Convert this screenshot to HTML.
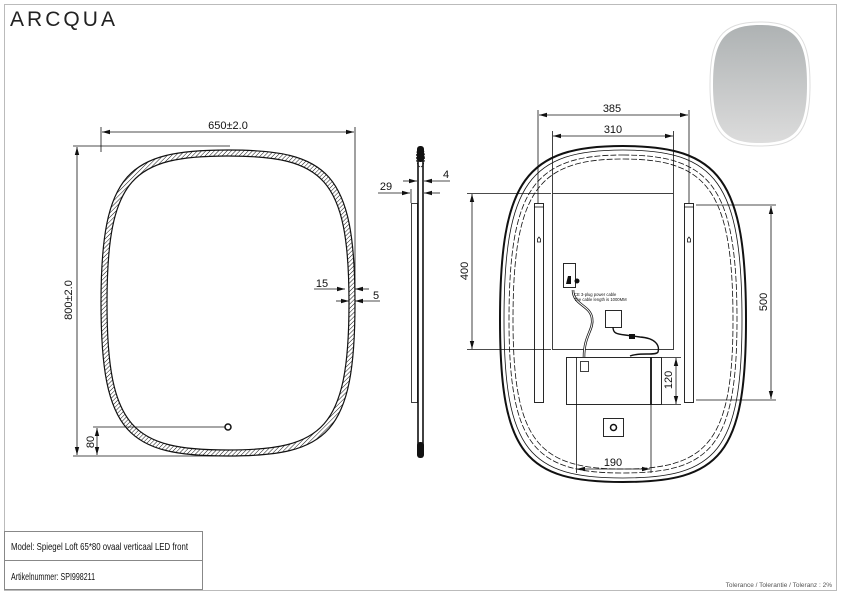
<!DOCTYPE html>
<html><head><meta charset="utf-8"><style>
html,body{margin:0;padding:0;background:#fff}
svg{display:block}
text{font-family:"Liberation Sans",sans-serif;fill:#111}
</style></head><body>
<svg width="842" height="596" viewBox="0 0 842 596" xmlns="http://www.w3.org/2000/svg">
<defs>
<pattern id="h" width="3" height="3" patternUnits="userSpaceOnUse" patternTransform="rotate(45)">
<rect width="3" height="3" fill="#fff"/><line x1="0" y1="0" x2="0" y2="3" stroke="#111" stroke-width="1"/></pattern>
<linearGradient id="g" x1="0" y1="0" x2="0" y2="1"><stop offset="0" stop-color="#aeb2b3"/><stop offset="1" stop-color="#dcdcdc"/></linearGradient>
<marker id="a" markerWidth="8" markerHeight="6" refX="8" refY="3" orient="auto" markerUnits="userSpaceOnUse"><path d="M0,0.8 L8,3 L0,5.2 Z" fill="#111"/></marker>
<marker id="b" markerWidth="8" markerHeight="6" refX="0" refY="3" orient="auto" markerUnits="userSpaceOnUse"><path d="M8,0.8 L0,3 L8,5.2 Z" fill="#111"/></marker>
</defs>
<rect x="4.5" y="4.5" width="832" height="586" fill="none" stroke="#bbb" stroke-width="1"/>
<text x="10" y="26" font-size="21" textLength="105" lengthAdjust="spacing" style="fill:#222">ARCQUA</text>
<path d="M760,22 C800,22 810,40 810,85 C810,135 795,146 760,146 C725,146 710,135 710,85 C710,40 720,22 760,22Z" fill="#fff" stroke="#ddd"/>
<path d="M760,25 C797,25 807,42 807,85 C807,132 793,143 760,143 C727,143 713,132 713,85 C713,42 723,25 760,25Z" fill="url(#g)"/>
<!-- front view -->
<path fill-rule="evenodd" fill="url(#h)" stroke="#111" stroke-width="1.2" d="M228,150 C328,150 355,172 355,303 C355,434 328,456 228,456 C128,456 101,434 101,303 C101,172 128,150 228,150 Z M228,156 C323,156 349,177 349,303 C349,429 323,450 228,450 C133,450 107,429 107,303 C107,177 133,156 228,156Z"/>
<g stroke="#111" stroke-width="0.8" fill="none">
<line x1="101" y1="127" x2="101" y2="152"/><line x1="355" y1="127" x2="355" y2="290"/>
<line x1="102" y1="132" x2="354" y2="132" marker-start="url(#b)" marker-end="url(#a)"/>
<line x1="73" y1="146" x2="230" y2="146"/><line x1="73" y1="456" x2="230" y2="456"/>
<line x1="77" y1="147" x2="77" y2="455" marker-start="url(#b)" marker-end="url(#a)"/>
<line x1="93" y1="427" x2="225" y2="427"/>
<line x1="97" y1="428" x2="97" y2="455" marker-start="url(#b)" marker-end="url(#a)"/>
<line x1="314" y1="289" x2="345" y2="289" marker-end="url(#a)"/>
<line x1="369" y1="289" x2="355" y2="289" marker-end="url(#a)"/>
<line x1="336" y1="301" x2="349" y2="301" marker-end="url(#a)"/>
<line x1="380" y1="301" x2="355" y2="301" marker-end="url(#a)"/>
</g>
<circle cx="228" cy="427" r="3" fill="#fff" stroke="#111" stroke-width="1.5"/>
<text x="228" y="129" font-size="11" text-anchor="middle">650±2.0</text>
<text transform="translate(72,300) rotate(-90)" font-size="11" text-anchor="middle">800±2.0</text>
<text transform="translate(94,442) rotate(-90)" font-size="11" text-anchor="middle">80</text>
<text x="322" y="287" font-size="11" text-anchor="middle">15</text>
<text x="376" y="299" font-size="11" text-anchor="middle">5</text>
<!-- side view -->
<g stroke="#111" fill="none">
<line x1="418" y1="150" x2="418" y2="455" stroke-width="1.6"/>
<line x1="423" y1="150" x2="423" y2="455" stroke-width="1.6"/>
<rect x="411.5" y="203.5" width="6" height="199" stroke-width="0.8"/>
<ellipse cx="420.5" cy="157" rx="4" ry="10" stroke-width="0.8" stroke-dasharray="2,1"/>
</g>
<rect x="417" y="146" width="7" height="16" rx="3" fill="#111"/>
<rect x="417" y="442" width="7" height="16" rx="3" fill="#111"/>
<g stroke="#111" stroke-width="0.8">
<line x1="403" y1="181" x2="417" y2="181" marker-end="url(#a)"/>
<line x1="450" y1="181" x2="424" y2="181" marker-end="url(#a)"/>
<line x1="378" y1="193" x2="410" y2="193" marker-end="url(#a)"/>
<line x1="440" y1="193" x2="424" y2="193" marker-end="url(#a)"/>
<line x1="411" y1="189" x2="411" y2="203"/>
</g>
<text x="446" y="178" font-size="11" text-anchor="middle">4</text>
<text x="386" y="190" font-size="11" text-anchor="middle">29</text>
<!-- back view -->
<g fill="none" stroke="#111">
<path stroke-width="2" d="M623,146 C720,146 746,180 746,320 C746,455 720,482 623,482 C526,482 500,455 500,320 C500,180 526,146 623,146 Z"/>
<path stroke-width="0.8" d="M623,150 C716,150 742,183 742,320 C742,451 716,478 623,478 C530,478 504,451 504,320 C504,183 530,150 623,150 Z"/>
<path stroke-width="0.8" stroke-dasharray="6,2" d="M623,155 C711,155 737,187 737,320 C737,446 711,473 623,473 C535,473 509,446 509,320 C509,187 535,155 623,155 Z"/>
<path stroke-width="0.8" stroke-dasharray="6,2" d="M623,159 C707,159 733,190 733,320 C733,442 707,469 623,469 C539,469 513,442 513,320 C513,190 539,159 623,159 Z"/>
<rect x="552.5" y="193.5" width="121" height="156" fill="#fff" stroke-width="0.8"/>
<rect x="534.5" y="203.5" width="9" height="199" fill="#fff" stroke-width="0.9"/>
<rect x="684.5" y="203.5" width="9" height="199" fill="#fff" stroke-width="0.9"/>
<line x1="534" y1="207" x2="544" y2="207" stroke-width="0.8"/>
<line x1="684" y1="207" x2="694" y2="207" stroke-width="0.8"/>
<rect x="566.5" y="357.5" width="95" height="47" fill="#fff" stroke-width="0.9"/>
<line x1="576.5" y1="357" x2="576.5" y2="405" stroke-width="0.8"/>
<line x1="651" y1="357" x2="651" y2="405" stroke-width="1.8"/>
<rect x="580.5" y="361.5" width="8" height="10" stroke-width="0.8"/>
<rect x="603.5" y="418.5" width="20" height="18" fill="#fff" stroke-width="0.9"/>
<circle cx="613.5" cy="427.5" r="3" stroke-width="1.5"/>
<rect x="605.5" y="310.5" width="16" height="17" stroke-width="0.9"/>
<path stroke-width="2.5" d="M573,290 C573,305 590,305 592,318 C594,330 584,335 584,357"/>
<path stroke-width="1" stroke="#fff" d="M573,290 C573,305 590,305 592,318 C594,330 584,335 584,357"/>
<path stroke-width="1.4" d="M613,327 C613,333 616,334 625,335 L640,337 C655,338 660,345 658,352 C656,356 640,352 630,356"/>
<rect x="563.5" y="263.5" width="12" height="24" fill="#fff" stroke-width="0.9"/>
</g>
<rect x="629" y="334" width="6" height="5" fill="#111"/>
<path d="M566,284 L568,276 L571,276 L571,284Z" fill="#111"/>
<circle cx="577" cy="281" r="2.5" fill="#111"/>
<path d="M539,237 l-1.5,2 v3 h3 v-3 z" fill="none" stroke="#111" stroke-width="0.8"/>
<path d="M689,237 l-1.5,2 v3 h3 v-3 z" fill="none" stroke="#111" stroke-width="0.8"/>
<text x="574" y="296" font-size="4.2">CE 3-plug power cable</text>
<text x="574" y="301" font-size="4.2">The cable length is 1000MM</text>
<g stroke="#111" stroke-width="0.8">
<line x1="538" y1="110" x2="538" y2="203"/><line x1="689" y1="110" x2="689" y2="203"/>
<line x1="539" y1="115" x2="688" y2="115" marker-start="url(#b)" marker-end="url(#a)"/>
<line x1="552.5" y1="131" x2="552.5" y2="193"/><line x1="673.5" y1="131" x2="673.5" y2="193"/>
<line x1="553" y1="136" x2="673" y2="136" marker-start="url(#b)" marker-end="url(#a)"/>
<line x1="467" y1="193.5" x2="551" y2="193.5"/><line x1="467" y1="349.5" x2="551" y2="349.5"/>
<line x1="472" y1="194" x2="472" y2="349" marker-start="url(#b)" marker-end="url(#a)"/>
<line x1="696" y1="205" x2="776" y2="205"/><line x1="696" y1="400" x2="776" y2="400"/>
<line x1="771" y1="206" x2="771" y2="399" marker-start="url(#b)" marker-end="url(#a)"/>
<line x1="662" y1="357.5" x2="681" y2="357.5"/><line x1="662" y1="404.5" x2="681" y2="404.5"/>
<line x1="676" y1="358" x2="676" y2="404" marker-start="url(#b)" marker-end="url(#a)"/>
<line x1="576.5" y1="405" x2="576.5" y2="473"/><line x1="651" y1="405" x2="651" y2="473"/>
<line x1="577" y1="469" x2="650" y2="469" marker-start="url(#b)" marker-end="url(#a)"/>
</g>
<text x="612" y="112" font-size="11" text-anchor="middle">385</text>
<text x="613" y="133" font-size="11" text-anchor="middle">310</text>
<text transform="translate(468,271) rotate(-90)" font-size="11" text-anchor="middle">400</text>
<text transform="translate(767,302) rotate(-90)" font-size="11" text-anchor="middle">500</text>
<text transform="translate(672,380) rotate(-90)" font-size="11" text-anchor="middle">120</text>
<text x="613" y="466" font-size="11" text-anchor="middle">190</text>
<!-- title block -->
<rect x="4.5" y="531.5" width="198" height="58" fill="none" stroke="#888"/>
<line x1="4.5" y1="560.5" x2="202.5" y2="560.5" stroke="#888"/>
<text x="11" y="550" font-size="10.5" textLength="177" lengthAdjust="spacingAndGlyphs">Model: Spiegel Loft 65*80 ovaal verticaal LED front</text>
<text x="11" y="580" font-size="10.5" textLength="84" lengthAdjust="spacingAndGlyphs">Artikelnummer: SPI998211</text>
<text x="832" y="587" font-size="6.5" text-anchor="end" style="fill:#555">Tolerance / Tolerantie / Toleranz : 2%</text>
</svg>
</body></html>
